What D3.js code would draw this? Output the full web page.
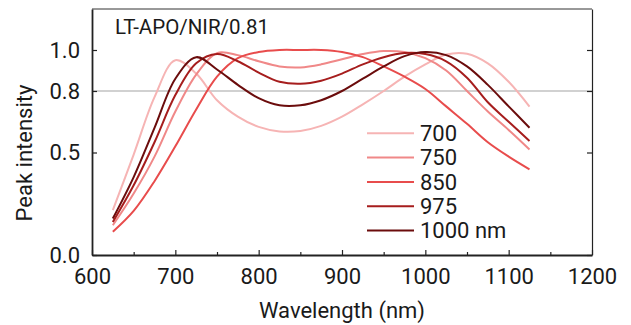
<!DOCTYPE html>
<html>
<head>
<meta charset="utf-8">
<script src="https://cdn.jsdelivr.net/npm/d3@7"></script>
<style>
  body { margin: 0; background: #fff; }
  text { font-family: Roboto, "Noto Sans", sans-serif; fill: #1a1a1a; }
</style>
</head>
<body>
<div id="chart"></div>
<script>
// wavelength samples (nm)
var wavelengths = [625, 650, 675, 700, 725, 750, 775, 800, 825, 850, 875, 900,
                   925, 950, 975, 1000, 1025, 1050, 1075, 1100, 1125];

// peak intensity per design
var s700  = [0.219, 0.49, 0.77, 0.95, 0.885, 0.755, 0.675, 0.625, 0.603, 0.605, 0.63, 0.675,
             0.735, 0.80, 0.87, 0.93, 0.978, 0.982, 0.935, 0.845, 0.724];
var s750  = [0.145, 0.30, 0.48, 0.70, 0.88, 0.985, 0.975, 0.945, 0.92, 0.915, 0.93, 0.955,
             0.98, 0.995, 0.99, 0.96, 0.90, 0.80, 0.70, 0.61, 0.515];
var s850  = [0.113, 0.215, 0.36, 0.53, 0.71, 0.87, 0.96, 0.99, 1.0, 1.0, 1.0, 0.99,
             0.965, 0.92, 0.87, 0.81, 0.725, 0.64, 0.55, 0.48, 0.418];
var s975  = [0.161, 0.34, 0.55, 0.78, 0.935, 0.98, 0.945, 0.89, 0.845, 0.835, 0.85, 0.885,
             0.93, 0.965, 0.985, 0.98, 0.945, 0.865, 0.745, 0.65, 0.556];
var s1000 = [0.178, 0.38, 0.62, 0.86, 0.965, 0.905, 0.83, 0.765, 0.73, 0.73, 0.755, 0.80,
             0.86, 0.92, 0.97, 0.99, 0.975, 0.92, 0.83, 0.725, 0.621];

var seriesNames = ["700", "750", "850", "975", "1000 nm"];
var seriesColors = ["#f6b4b4", "#f08888", "#e84c4c", "#a61d1d", "#6b0c0c"];
var seriesValues = [s700, s750, s850, s975, s1000];

var xTicks = [600, 700, 800, 900, 1000, 1100, 1200];
var xMinor = [650, 750, 850, 950, 1050, 1150];
var yTicks = [0.0, 0.5, 0.8, 1.0];
var refLine = 0.8;
var title = "LT-APO/NIR/0.81";

var margin = { top: 9, right: 39, bottom: 70, left: 92 };
var width = 631 - margin.left - margin.right;
var height = 325 - margin.top - margin.bottom;

var svg = d3.select("#chart")
  .append("svg")
    .attr("width", 631)
    .attr("height", 325)
  .append("g")
    .attr("transform", "translate(" + margin.left + "," + margin.top + ")");

var x = d3.scaleLinear().domain([600, 1200]).range([0, width]);
var y = d3.scaleLinear().domain([0, 1.2]).range([height, 0]);

// reference line at 0.8
svg.append("line")
  .attr("x1", 0).attr("x2", width)
  .attr("y1", y(refLine)).attr("y2", y(refLine))
  .attr("stroke", "#c2c2c2")
  .attr("stroke-width", 1.3);

// curves
var line = d3.line()
  .x(function(d) { return x(d[0]); })
  .y(function(d) { return y(d[1]); })
  .curve(d3.curveCatmullRom.alpha(0.5));

seriesValues.forEach(function(vals, i) {
  var pts = wavelengths.map(function(w, j) { return [w, vals[j]]; });
  svg.append("path")
    .datum(pts)
    .attr("fill", "none")
    .attr("stroke", seriesColors[i])
    .attr("stroke-width", 2)
    .attr("d", line);
});

// frame: top and right
svg.append("line")
  .attr("x1", 0).attr("x2", width).attr("y1", 0).attr("y2", 0)
  .attr("stroke", "#333").attr("stroke-width", 1);

svg.append("g")
  .attr("transform", "translate(" + width + ",0)")
  .call(d3.axisRight(y).tickValues(yTicks).tickSizeInner(-5).tickSizeOuter(0).tickFormat(""))
  .call(function(g) {
    g.selectAll("line").attr("stroke", "#222").attr("stroke-width", 1.2);
    g.select(".domain").attr("stroke", "#222").attr("stroke-width", 1.2);
  });

// bottom axis
svg.append("g")
  .attr("transform", "translate(0," + height + ")")
  .call(d3.axisBottom(x).tickValues(xMinor).tickSizeInner(-3).tickSizeOuter(0).tickFormat(""))
  .call(function(g) {
    g.select(".domain").remove();
    g.selectAll("line").attr("stroke", "#222").attr("stroke-width", 1.2);
  });

svg.append("g")
  .attr("transform", "translate(0," + height + ")")
  .call(d3.axisBottom(x).tickValues(xTicks).tickSizeInner(-5).tickSizeOuter(0).tickPadding(13.5)
    .tickFormat(d3.format("d")))
  .call(function(g) {
    g.select(".domain").attr("stroke", "#222").attr("stroke-width", 1.8);
    g.selectAll("line").attr("stroke", "#222").attr("stroke-width", 1.2);
    g.selectAll("text").attr("font-size", 22).attr("fill", "#1a1a1a")
      .style("font-family", "Roboto, sans-serif");
  });

// left axis
svg.append("g")
  .call(d3.axisLeft(y).tickValues(yTicks).tickSizeInner(-5).tickSizeOuter(0).tickPadding(12)
    .tickFormat(d3.format(".1f")))
  .call(function(g) {
    g.select(".domain").attr("stroke", "#222").attr("stroke-width", 1.8);
    g.selectAll("line").attr("stroke", "#222").attr("stroke-width", 1.2);
    g.selectAll("text").attr("font-size", 22).attr("fill", "#1a1a1a")
      .style("font-family", "Roboto, sans-serif");
  });

// axis titles
svg.append("text")
  .attr("x", width / 2)
  .attr("y", 318 - margin.top)
  .attr("text-anchor", "middle")
  .attr("font-size", 22)
  .text("Wavelength (nm)");

svg.append("text")
  .attr("transform", "translate(" + (32 - margin.left) + "," + (153 - margin.top) + ") rotate(-90)")
  .attr("text-anchor", "middle")
  .attr("font-size", 22)
  .text("Peak intensity");

// title inside the frame
svg.append("text")
  .attr("x", 115 - margin.left)
  .attr("y", 34 - margin.top)
  .attr("font-size", 20.5)
  .text(title);

// legend
var legend = svg.append("g")
  .attr("transform", "translate(" + (367 - margin.left) + "," + (133.3 - margin.top) + ")");

seriesNames.forEach(function(name, i) {
  var row = legend.append("g").attr("transform", "translate(0," + (i * 24.3) + ")");
  row.append("line")
    .attr("x1", 0).attr("x2", 47)
    .attr("stroke", seriesColors[i])
    .attr("stroke-width", 2);
  row.append("text")
    .attr("x", 53)
    .attr("dy", "0.35em")
    .attr("font-size", 22)
    .text(name);
});
</script>
</body>
</html>
